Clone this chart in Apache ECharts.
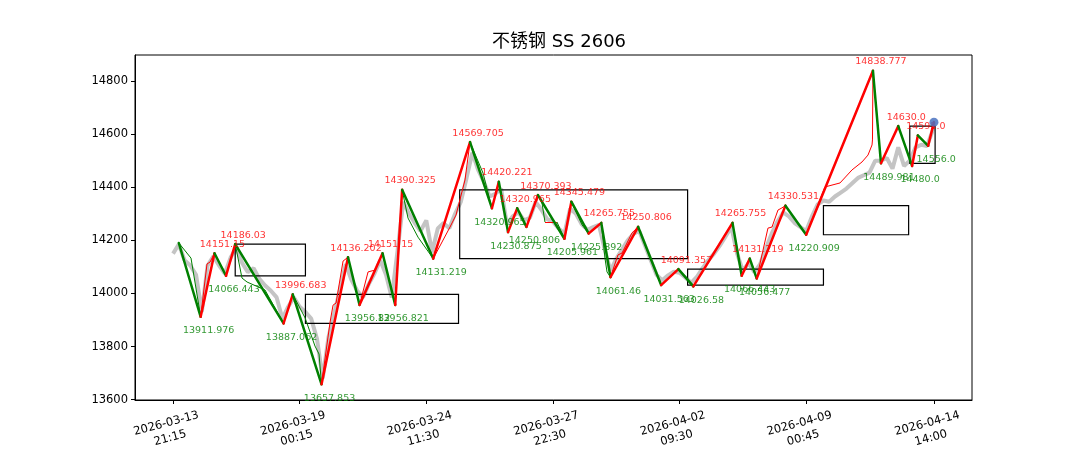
<!DOCTYPE html>
<html><head><meta charset="utf-8">
<script src="https://cdn.jsdelivr.net/npm/echarts@6/dist/echarts.min.js"></script>
<style>html,body{margin:0;padding:0;background:#fff}#c{width:1080px;height:450px}</style>
</head><body><div id="c"></div>
<script>
// ---- data ----
const titleText = '不锈钢 SS 2606';
const tickIdx = [0, 110, 220, 330, 440, 550, 661];
const tickLabels = ['2026-03-13\n21:15','2026-03-19\n00:15','2026-03-24\n11:30','2026-03-27\n22:30','2026-04-02\n09:30','2026-04-09\n00:45','2026-04-14\n14:00'];
const yTicks = [13600, 13800, 14000, 14200, 14400, 14600, 14800];

const grayIdx = [0,5,10,15,20,25,30,35,40,45,50,55,60,65,70,75,80,85,90,95,100,105,110,115,120,125,130,135,140,145,150,155,160,165,170,175,180,185,190,195,200,205,210,215,220,225,230,235,240,245,250,255,260,265,270,275,280,285,290,295,300,305,310,315,320,325,330,335,340,345,350,355,360,365,370,375,380,385,390,395,400,405,410,415,420,425,430,435,440,445,450,455,460,465,470,475,480,485,490,495,500,505,510,515,520,525,530,535,540,545,550,555,560,565,570,575,580,585,590,595,600,605,610,615,620,625,630,635,640,645,650,655,660,661];
const grayVal = [14150,14185,14125,14105,14070,13930,14105,14140,14105,14075,14135,14172,14115,14080,14095,14055,14030,14010,13985,13905,13950,13985,13950,13930,13905,13830,13680,13835,13925,14015,14110,14050,14010,13985,14035,14075,14125,14070,13985,14160,14345,14300,14265,14235,14275,14155,14245,14265,14245,14300,14345,14435,14530,14465,14420,14365,14375,14395,14260,14290,14305,14275,14285,14345,14315,14280,14270,14245,14225,14320,14300,14260,14240,14250,14258,14165,14085,14130,14165,14200,14225,14235,14180,14125,14070,14050,14068,14082,14078,14060,14040,14062,14095,14125,14150,14180,14215,14250,14150,14085,14115,14080,14110,14170,14225,14270,14305,14290,14265,14250,14235,14290,14335,14350,14345,14365,14380,14395,14415,14435,14445,14455,14500,14500,14510,14470,14550,14480,14500,14550,14560,14555,14615,14645];

const pivIdx = [5,24,36,46,54,96,104,129,152,162,182,193,199,226,258,277,283,291,299,307,317,340,346,361,372,380,404,424,439,452,486,494,501,507,532,550,608,615,630,642,647,656,661];
const pivVal = [14190,13911.976,14151.15,14066.443,14186.03,13887.062,13996.683,13657.853,14136.202,13956.82,14151.15,13956.821,14390.325,14131.219,14569.705,14320.965,14420.221,14230.875,14320.965,14250.806,14370.393,14205.961,14345.479,14225.892,14265.755,14061.46,14250.806,14031.563,14091.357,14026.58,14265.755,14066.443,14131.219,14056.477,14330.531,14220.909,14838.777,14489.981,14630.0,14480.0,14595.0,14556.0,14645];

const thinIdx = [5,15.6,24,29.5,32.1,36,46,54,59.9,64.3,79.9,96,104,114.7,123.3,126.8,129,136.4,139,141.6,147.7,152,162,169.4,175.5,182,193,199,204.1,212.8,226,240.6,245.8,253.6,258,269.3,277,283,291,299,307,317,320.5,323.1,333.5,340,346,355.3,361,372,375.2,377,380,386.5,390,398.7,404,424,439,452,486,494,501,507,516.8,520.3,525.5,528.9,532,550,566.3,579.4,589.8,598.5,603.7,607.2,607.6,608,615,630,642,647,656,661];
const thinVal = [14190,14133,13911.976,14111,14118,14151.15,14066.443,14186.03,14058,14043,14013,13887.062,13996.683,13908,13802,13772,13657.853,13892,13956,13964,14122,14136.202,13956.82,14081,14088,14151.15,13956.821,14390.325,14284,14212,14131.219,14250,14295,14427,14569.705,14453,14320.965,14420.221,14230.875,14320.965,14250.806,14370.393,14341,14269,14269,14205.961,14345.479,14258,14225.892,14265.755,14133,14081,14061.46,14145,14152,14228,14250.806,14031.563,14091.357,14026.58,14265.755,14066.443,14131.219,14056.477,14246,14250,14314,14322,14330.531,14220.909,14401,14416,14465,14495,14521,14559,14578,14838.777,14489.981,14630.0,14480.0,14595.0,14556.0,14645];

const boxLeft = [54, 115, 249, 447, 565, 640];
const boxRight = [115, 248, 447, 565, 639, 662];
const boxTop = [14186.03, 13996.683, 14390.325, 14091.357, 14330.531, 14630.0];
const boxBottom = [14066.443, 13887.062, 14131.219, 14031.563, 14220.909, 14489.981];

const lastIdx = 661, lastVal = 14645;

// ---- build ----
const RED = '#ff0000', GREEN = '#008000';
function segs(ix, vals) {
  const out = [];
  for (let i = 1; i < ix.length; i++) {
    out.push({coords: [[ix[i-1], vals[i-1]], [ix[i], vals[i]]],
      lineStyle: {color: vals[i] >= vals[i-1] ? RED : GREEN}});
  }
  return out;
}
function fmt(v) { return Number.isInteger(v) ? v.toFixed(1) : String(v); }
const highs = [], lows = [];
for (let i = 1; i < pivIdx.length - 1; i++) {
  if (pivVal[i] > pivVal[i-1]) highs.push([pivIdx[i], pivVal[i]]);
  else lows.push([pivIdx[i], pivVal[i]]);
}
const gray = grayIdx.map((x, i) => [x, grayVal[i]]);
const boxes = boxLeft.map((l, i) => [l, boxRight[i], boxTop[i], boxBottom[i]]);

const FONT = 'DejaVu Sans';
const chart = echarts.init(document.getElementById('c'), null, {renderer: 'canvas'});
chart.setOption({
  animation: false,
  backgroundColor: '#fff',
  title: {text: titleText, left: 554, top: 28, textAlign: 'center',
    textStyle: {fontFamily: 'DejaVu Sans, "Noto Sans CJK SC"', fontSize: 18, fontWeight: 'normal', color: '#000'}},
  grid: {left: 135, right: 108, top: 55, bottom: 50, show: true, borderColor: '#000', borderWidth: 1,
    backgroundColor: 'transparent', containLabel: false, outerBoundsMode: 'none'},
  xAxis: {type: 'value', min: -33.05, max: 694.05,
    axisLine: {show: true, onZero: false, lineStyle: {color: '#000'}},
    axisTick: {show: true, length: 4, customValues: tickIdx, lineStyle: {color: '#000'}},
    axisLabel: {customValues: tickIdx, rotate: 15, align: 'center', verticalAlign: 'top', margin: 14,
      padding: [0, 18, 0, 0],
      fontFamily: FONT, fontSize: 11.5, color: '#000', lineHeight: 15,
      formatter: v => { const k = tickIdx.indexOf(v); return k >= 0 ? tickLabels[k] : ''; }},
    splitLine: {show: false}},
  yAxis: {type: 'value', min: 13598.8, max: 14897.8,
    axisLine: {show: true, onZero: false, lineStyle: {color: '#000'}},
    axisTick: {show: true, length: 4, customValues: yTicks, lineStyle: {color: '#000'}},
    axisLabel: {customValues: yTicks, fontFamily: FONT, fontSize: 11.5, color: '#000', margin: 7,
      formatter: v => String(v)},
    splitLine: {show: false}},
  series: [
    {type: 'line', data: gray, showSymbol: false, symbol: 'none', z: 1,
      lineStyle: {color: '#c4c4c4', width: 4}},
    {type: 'custom', z: 2, data: boxes,
      renderItem: (params, api) => {
        const p1 = api.coord([api.value(0), api.value(2)]);
        const p2 = api.coord([api.value(1), api.value(3)]);
        return {type: 'rect', shape: {x: p1[0], y: p1[1], width: p2[0]-p1[0], height: p2[1]-p1[1]},
          style: {fill: null, stroke: '#000', lineWidth: 1.2}};
      }},
    {type: 'lines', coordinateSystem: 'cartesian2d', polyline: false, z: 3,
      data: segs(thinIdx, thinVal), lineStyle: {width: 1, opacity: 1}},
    {type: 'lines', coordinateSystem: 'cartesian2d', polyline: false, z: 4,
      data: segs(pivIdx, pivVal), lineStyle: {width: 2.5, opacity: 1, cap: 'round', join: 'round'}},
    {type: 'scatter', data: highs, symbolSize: 0, z: 5,
      label: {show: true, position: 'top', distance: 4, offset: [8, 0], color: RED, fontFamily: FONT, fontSize: 9.5,
        formatter: p => fmt(p.value[1])}},
    {type: 'scatter', data: lows, symbolSize: 0, z: 5,
      label: {show: true, position: 'bottom', distance: 9, offset: [8, 0], color: GREEN, fontFamily: FONT, fontSize: 9.5,
        formatter: p => fmt(p.value[1])}},
    {type: 'scatter', data: [[lastIdx, lastVal]], symbolSize: 9, z: 6,
      itemStyle: {color: '#4a72c0', opacity: 0.85}}
  ]
});
</script></body></html>
